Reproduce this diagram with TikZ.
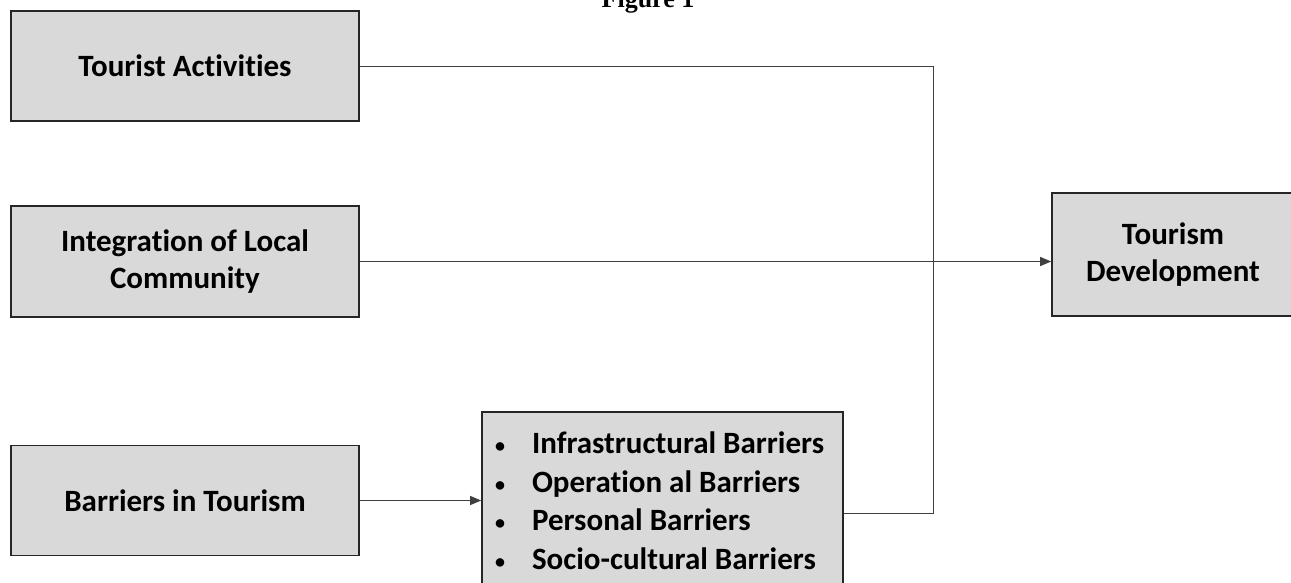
\documentclass[tikz,border=0pt]{standalone}
\usepackage{fontspec}
\setmainfont{Carlito}[Ligatures=NoCommon]
\newfontfamily\titlefont{Liberation Serif}
\usetikzlibrary{arrows.meta,calc}
\definecolor{caixa}{HTML}{D9D9D9}
\newcommand{\marca}{\makebox[37pt][l]{\fontsize{20}{20}\selectfont\raisebox{1pt}{•}}}
\tikzset{
  bloco/.style={draw=black!85, line width=1.6pt, fill=caixa, inner sep=0pt,
    align=center, font=\fontsize{31}{37}\selectfont\bfseries},
  liga/.style={draw=black!75, line width=1pt},
  seta/.style={liga, -{Triangle[length=11pt,width=9pt]}}
}
\begin{document}
\begin{tikzpicture}[x=1pt,y=-1pt]
    \useasboundingbox (0,0) rectangle (1291,582);

    % Titulo (cortado no topo)
    \node[anchor=base, font=\titlefont\fontsize{26}{30}\selectfont\bfseries] (titulo) at (648,7) {Figure 1};

    % Caixas da esquerda
    \node[bloco, minimum width=348pt, minimum height=110pt] (atividades) at (185,66) {Tourist Activities};
    \node[bloco, minimum width=348pt, minimum height=111pt] (integracao) at (185,261.5) {Integration of Local\\Community};
    \node[bloco, minimum width=348pt, minimum height=110pt] (barreirasturismo) at (185,500.5) {Barriers in Tourism};

    % Lista de barreiras
    \node[bloco, anchor=north, text width=335pt, inner xsep=13pt, inner ysep=20pt, align=flush left,
      font=\fontsize{31}{38.5}\selectfont\bfseries] (barreiras) at (662.5,411)
      {\marca Infrastructural Barriers\\
       \marca Operation al Barriers\\
       \marca Personal Barriers\\
       \marca Socio-cultural Barriers};

    % Caixa da direita
    \node[bloco, minimum width=242pt, minimum height=123pt] (desenvolvimento) at (1173,254.5) {Tourism\\Development};

    % Ligacoes
    \coordinate (canto) at (933,66);
    \coordinate (saida) at ($(barreiras.north east)+(0,102)$);
    \draw[liga] (atividades.east) -- (canto) |- (saida);
    \draw[seta] (integracao.east) -- (integracao.east -| desenvolvimento.west);
    \draw[seta] (barreirasturismo.east) -- (barreirasturismo.east -| barreiras.west);

\end{tikzpicture}
\end{document}
